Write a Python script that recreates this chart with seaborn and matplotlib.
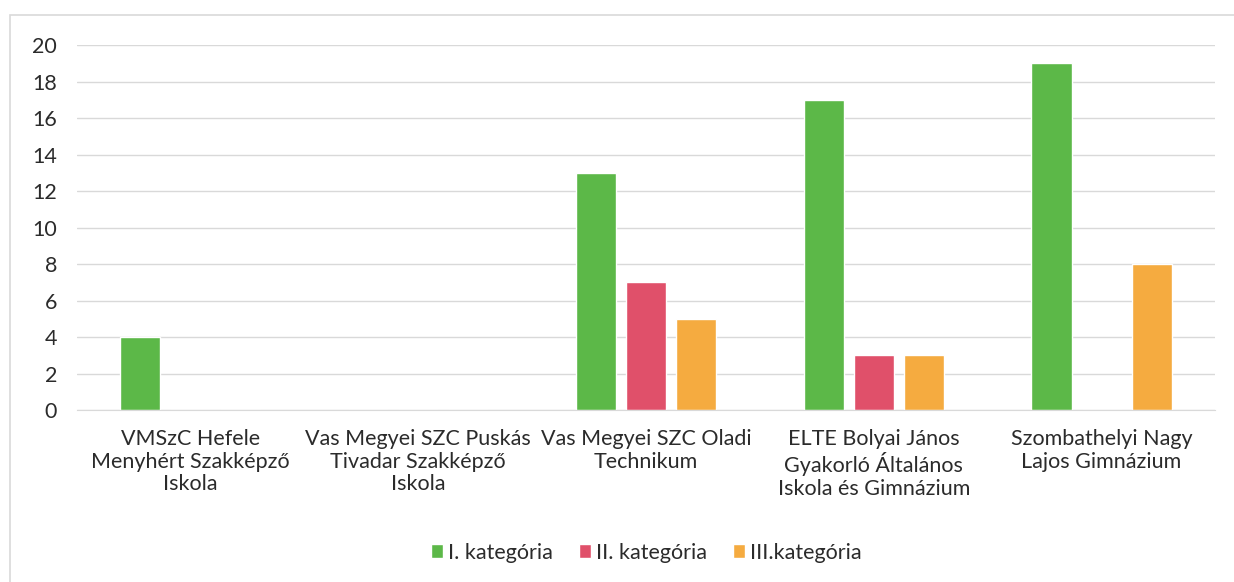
import pandas as pd
import seaborn as sns
import matplotlib.pyplot as plt
from matplotlib.patches import Rectangle

# iskolák és kategóriák
iskolak = ["VMSzC Hefele\nMenyhért Szakképző\nIskola",
           "Vas Megyei SZC Puskás\nTivadar Szakképző\nIskola",
           "Vas Megyei SZC Oladi\nTechnikum",
           "ELTE Bolyai János\nGyakorló Általános\nIskola és Gimnázium",
           "Szombathelyi Nagy\nLajos Gimnázium"]
kategoriak = ["I. kategória", "II. kategória", "III.kategória"]

kat1 = [4, 0, 13, 17, 19]
kat2 = [0, 0, 7, 3, 0]
kat3 = [0, 0, 5, 3, 8]

szinek = ["#5cb848", "#e0506a", "#f5ab40"]

rows = []
for k, vals in zip(kategoriak, [kat1, kat2, kat3]):
    for isk, v in zip(iskolak, vals):
        rows.append([isk, k, v])
df = pd.DataFrame(rows, columns=["iskola", "kategoria", "db"])

sns.set_style("white")
plt.rcParams['font.family'] = ['Lato', 'DejaVu Sans']

fig = plt.figure(figsize=(12.34, 5.82), dpi=100)
ax = fig.add_axes([0.062, 0.2955, 0.923, 0.627])

sns.barplot(data=df, x="iskola", y="db", hue="kategoria", palette=szinek,
            width=0.66, gap=0.2, ax=ax, saturation=1)

ax.set_ylim(0, 20)
ax.set_yticks(range(0, 21, 2))
ax.set_xlim(-0.5, len(iskolak) - 0.5)
ax.set_xlabel("")
ax.set_ylabel("")
ax.grid(axis="y", color="#d9d9d9", linewidth=1)
ax.set_axisbelow(True)
for s in ["top", "right", "left"]:
    ax.spines[s].set_visible(False)
ax.spines["bottom"].set_color("#d9d9d9")
ax.tick_params(axis="y", length=0, pad=14, labelsize=15.5, labelcolor="#2b2b2b")
ax.tick_params(axis="x", length=0, pad=14, labelsize=15.5, labelcolor="#2b2b2b")
for t in ax.get_xticklabels():
    t.set_linespacing(1.15)

leg = ax.legend(loc="upper center", bbox_to_anchor=(0.5, -0.31), ncol=3,
                frameon=False, fontsize=15.5, handlelength=0.6, handleheight=0.6,
                handletextpad=0.2, columnspacing=1.2)
for t in leg.get_texts():
    t.set_color("#2b2b2b")

# keret
fig.patches.append(Rectangle((0.008, -0.01), 1.0, 0.985, transform=fig.transFigure,
                             fill=False, edgecolor="#d9d9d9", linewidth=1.2))

fig.savefig("out.png", dpi=100)
